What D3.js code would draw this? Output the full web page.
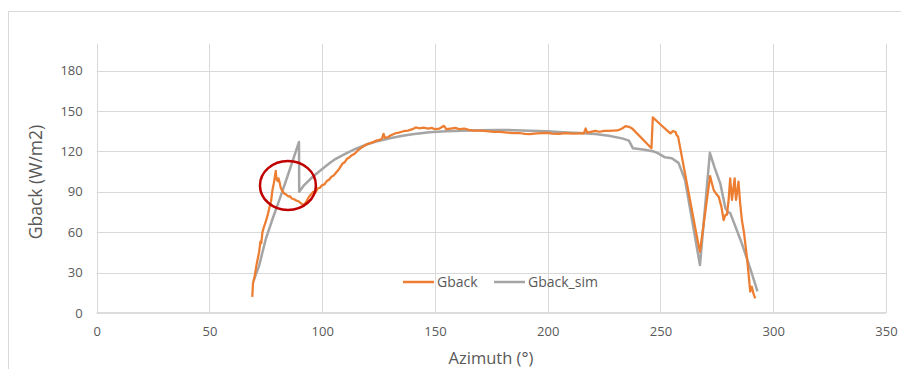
<!DOCTYPE html>
<html>
<head>
<meta charset="utf-8">
<script src="https://cdn.jsdelivr.net/npm/d3@7"></script>
<style>
html,body{margin:0;padding:0;background:#fff;}
svg{display:block;}
text{font-family:"Open Sans",sans-serif;fill:#595959;}
</style>
</head>
<body>
<svg id="chart" width="901" height="369"></svg>
<script>
// ---- data ----
const xTicks = [0, 50, 100, 150, 200, 250, 300, 350];
const yTicks = [0, 30, 60, 90, 120, 150, 180];
const seriesNames = ["Gback", "Gback_sim"];
const seriesColors = ["#ed7d31", "#a5a5a5"];

const gbackAz = [69,69.3,70,71,72,72.6,73,73.5,74,75,76,76.7,77.3,78,78.5,79,79.4,79.7,80.2,80.6,81.1,81.6,82.2,83,84,85,85.7,86.5,87.5,88.5,89.5,90.5,91.5,92.3,93,94,95,96,97,98,99,100,101,102,103,104,105,106,107.5,109,110,111,112,113,114.5,116,118,120,122,124,125.5,126.5,127.2,127.8,129,130.5,132.5,134,136,138,140,141.5,143,145,147,148.5,150,152,154,155,157,159,161,163,165,167,170,173,176,179,182,185,188,190,192,194,197,200,202,205,208,211,214,216,216.8,217.5,219,221,223,225,227,229,231,233,234.5,236,237.4,246,246.6,250,253,254.4,255.5,256.6,257.2,257.8,267,267.5,272,273,273.6,274.5,275.8,277,278,278.8,279.5,280.2,280.9,281.4,281.7,282.3,282.9,283.2,283.5,284,284.6,285.3,286.1,287,288.3,289,289.8,290.5,291.3,292];
const gbackVal = [12,22,27,37,45,53,52,60,63,68,74,79,83,92,96,101,105.5,100,98,100,97,93,91,89,88,86.5,86.8,85,84.5,83.5,83,81.5,80.5,81,83,86,88,90,89.5,92.5,93,95,95.5,98,99,101,102,104,107,111,112,114.5,115.5,117,118.5,121,123.5,125.5,126.5,128,128.5,129.5,133,130,130.5,132,133.5,134,135,135.5,136.5,137.8,137.2,137.6,137,137.5,136.5,137,139,136.5,137,137.5,136.5,137,136,135.5,135.5,135,134.5,134.5,134,133.5,133.5,133,132.8,133.2,133.5,133.8,133.2,133,133.5,133.2,133.4,133.4,137,134,134.5,135.3,134.6,135.3,135.2,135.4,135.6,137,138.8,138.3,137.1,122.3,145.3,140,135.5,133.4,135,134.6,132,131,49.2,45.5,101.7,95,91.3,89,86.4,79,69,72.8,73,84,100,90,84,92,100,90,84,90,97.5,82,69,60,41.8,30,15.8,19.5,14,10.9];

const simAz = [69.6,72,75,78,81,84,87,89.7,89.8,92,95.8,100,103.2,106,110.6,115,120,125,130,135,140,147.5,155,162,170,177,185,192,200,206.5,214,221,227,233,236,237.8,243,247,249,252,255,258,260.9,267.5,271.9,274,276.5,278.8,280,281,286,290,293];
const simVal = [24,35,55,70,84,98.6,113.5,127,90,95,101.2,107,111.2,114.5,118.6,122,125.3,127.8,129.8,131.5,132.8,134.3,135,135.4,135.7,135.9,135.8,135.4,134.9,134.3,133.6,132.9,131.6,129.7,128,122.3,121.2,120,118.5,115.6,114.9,111.5,98.8,35.6,119,108,96.3,77.7,75,74,52,32,16];

// annotation ellipse in data units: [cx, cy, rx, ry]
const circleAnno = [84.8, 94.7, 12.4, 18.2];

// ---- layout ----
const svg = d3.select("#chart");
const x = d3.scaleLinear().domain([0, 350]).range([96.7, 886]);
const y = d3.scaleLinear().domain([0, 200]).range([313, 43.7]);

// chart border
svg.append("rect").attr("x", 8.5).attr("y", 11.5).attr("width", 920).attr("height", 400)
  .attr("fill", "none").attr("stroke", "#d9d9d9").attr("stroke-width", 1);

// gridlines
svg.append("g").selectAll("line").data(yTicks.filter(d => d > 0)).join("line")
  .attr("x1", x(0)).attr("x2", x(350))
  .attr("y1", d => Math.round(y(d)) + 0.5).attr("y2", d => Math.round(y(d)) + 0.5)
  .attr("stroke", "#d9d9d9").attr("stroke-width", 1);
svg.append("g").selectAll("line").data(xTicks).join("line")
  .attr("x1", d => Math.round(x(d)) + 0.5).attr("x2", d => Math.round(x(d)) + 0.5)
  .attr("y1", y(200)).attr("y2", y(0))
  .attr("stroke", "#d9d9d9").attr("stroke-width", 1);

// x axis baseline
svg.append("line").attr("x1", x(0)).attr("x2", x(350)).attr("y1", y(0)).attr("y2", y(0))
  .attr("stroke", "#d0d0d0").attr("stroke-width", 1.5);

// tick labels via axes
const xAxis = d3.axisBottom(x).tickValues(xTicks).tickSize(0).tickPadding(14);
const gx = svg.append("g").attr("transform", `translate(0,${y(0)})`).call(xAxis);
gx.select(".domain").remove();
gx.selectAll("text").style("font-family", '"Open Sans",sans-serif').style("font-size", "13px").attr("fill", "#595959");

const yAxis = d3.axisLeft(y).tickValues(yTicks).tickSize(0).tickPadding(14);
const gy = svg.append("g").attr("transform", `translate(${x(0)},0)`).call(yAxis);
gy.select(".domain").remove();
gy.selectAll("text").style("font-family", '"Open Sans",sans-serif').style("font-size", "13px").attr("fill", "#595959");

// axis titles
svg.append("text").attr("x", 491).attr("y", 364).attr("text-anchor", "middle")
  .style("font-size", "16.5px").text("Azimuth (°)");
svg.append("text").attr("transform", "translate(42,182) rotate(-90)").attr("text-anchor", "middle")
  .style("font-size", "17.5px").text("Gback (W/m2)");

// lines
const line = d3.line().x(d => x(d[0])).y(d => y(d[1]));
const simData = simAz.map((a, i) => [a, simVal[i]]);
const gbData = gbackAz.map((a, i) => [a, gbackVal[i]]);
svg.append("path").datum(simData).attr("d", line).attr("fill", "none")
  .attr("stroke", seriesColors[1]).attr("stroke-width", 2.5).attr("stroke-linejoin", "round");
svg.append("path").datum(gbData).attr("d", line).attr("fill", "none")
  .attr("stroke", seriesColors[0]).attr("stroke-width", 2.25).attr("stroke-linejoin", "round");

// annotation ellipse
svg.append("ellipse")
  .attr("cx", x(circleAnno[0])).attr("cy", y(circleAnno[1]))
  .attr("rx", x(circleAnno[2]) - x(0)).attr("ry", y(0) - y(circleAnno[3]))
  .attr("fill", "none").attr("stroke", "#c00000").attr("stroke-width", 2.5);

// legend
const legendX = [403, 494];
const lg = svg.append("g");
seriesNames.forEach((n, i) => {
  lg.append("line").attr("x1", legendX[i]).attr("x2", legendX[i] + 31).attr("y1", 282).attr("y2", 282)
    .attr("stroke", seriesColors[i]).attr("stroke-width", 2.5);
  lg.append("text").attr("x", legendX[i] + 34).attr("y", 287).style("font-size", "14px").text(n);
});
</script>
</body>
</html>
